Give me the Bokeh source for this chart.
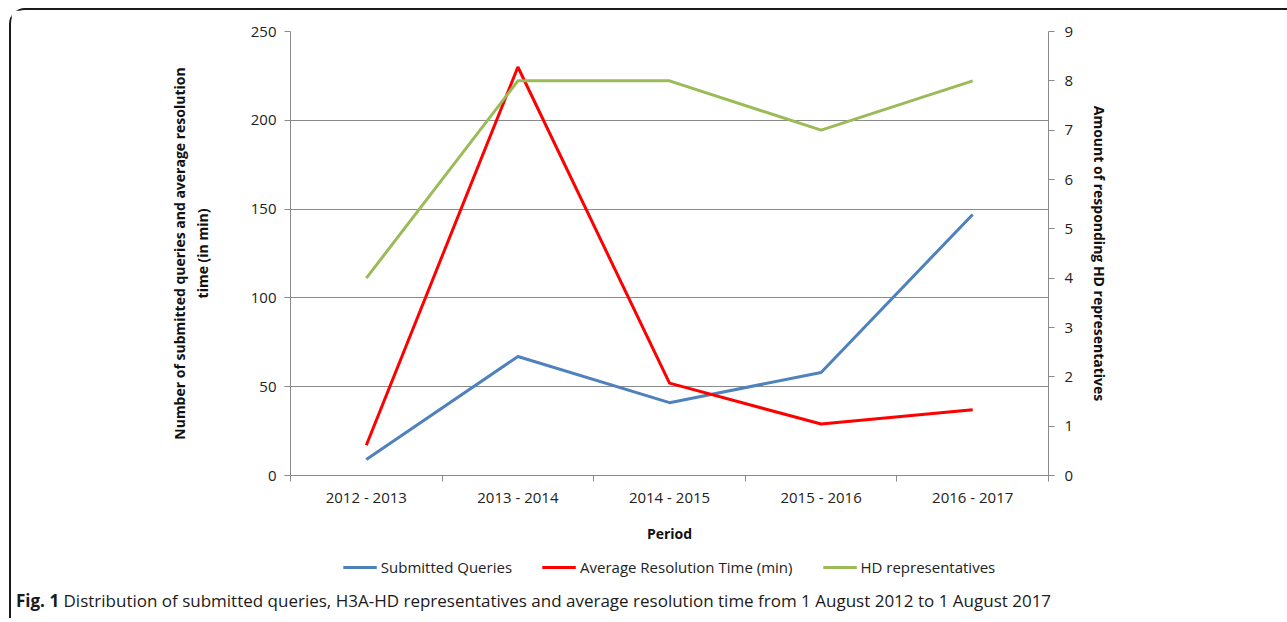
from bokeh.plotting import figure
from bokeh.models import (Range1d, LinearAxis, FixedTicker, Legend, LegendItem, Div)
from bokeh.layouts import column
from bokeh.embed import file_html
from bokeh.resources import INLINE

periods = ["2012 - 2013", "2013 - 2014", "2014 - 2015", "2015 - 2016", "2016 - 2017"]
submitted_queries = [9, 67, 41, 58, 147]
avg_resolution_min = [17, 230, 52, 29, 37]
hd_representatives = [4, 8, 8, 7, 8]
left_ticks = [0, 50, 100, 150, 200, 250]
right_ticks = [0, 1, 2, 3, 4, 5, 6, 7, 8, 9]
series_names = ["Submitted Queries", "Average Resolution Time (min)", "HD representatives"]
series_colors = ["#4F81BD", "#FF0000", "#9BBB59"]
caption_bold = "Fig. 1"
caption_text = ("Distribution of submitted queries, H3A-HD representatives and average "
                "resolution time from 1 August 2012 to 1 August 2017")

FONT = "Open Sans"
GRAY = "#8a8a8a"

xs = [i + 0.5 for i in range(len(periods))]

p = figure(width=1268, height=611, frame_width=758, frame_height=444,
           output_backend="svg", toolbar_location=None,
           x_range=Range1d(0, len(periods)), y_range=Range1d(0, 250),
           min_border_left=279, min_border_right=231, min_border_top=21, min_border_bottom=73,
           x_axis_location="below", y_axis_location="left")
p.outline_line_color = None
p.background_fill_color = "white"
p.border_fill_color = "white"

# x axis
xa = p.xaxis[0]
xa.ticker = FixedTicker(ticks=xs, minor_ticks=list(range(len(periods) + 1)))
xa.major_label_overrides = {x: lab for x, lab in zip(xs, periods)}
xa.major_tick_out = 0
xa.major_tick_in = 0
xa.minor_tick_out = 6
xa.minor_tick_in = 0
xa.minor_tick_line_color = GRAY
xa.axis_line_color = GRAY
xa.major_label_text_font = FONT
xa.major_label_text_font_size = "15px"
xa.major_label_text_color = "#222222"
xa.major_label_standoff = 5
xa.axis_label = "Period"
xa.axis_label_text_font = FONT
xa.axis_label_text_font_style = "bold"
xa.axis_label_text_font_size = "14px"
xa.axis_label_text_color = "#111111"
xa.axis_label_standoff = 14
p.xgrid.visible = False

# left axis
ya = p.yaxis[0]
ya.ticker = FixedTicker(ticks=left_ticks)
ya.minor_tick_line_color = None
ya.major_tick_out = 6
ya.major_tick_in = 0
ya.major_tick_line_color = GRAY
ya.axis_line_color = GRAY
ya.major_label_text_font = FONT
ya.major_label_text_font_size = "15px"
ya.major_label_text_color = "#222222"
ya.major_label_standoff = 8
ya.axis_label = "Number of submitted queries and average resolution\ntime (in min)"
ya.axis_label_text_font = FONT
ya.axis_label_text_font_style = "bold"
ya.axis_label_text_font_size = "14px"
ya.axis_label_text_color = "#111111"
ya.axis_label_standoff = 36
p.ygrid.ticker = FixedTicker(ticks=left_ticks)
p.ygrid.grid_line_color = GRAY
p.ygrid.grid_line_width = 1

# right axis
p.extra_y_ranges = {"hd": Range1d(0, 9)}
ra = LinearAxis(y_range_name="hd", ticker=FixedTicker(ticks=right_ticks))
ra.minor_tick_line_color = None
ra.major_tick_out = 6
ra.major_tick_in = 0
ra.major_tick_line_color = GRAY
ra.axis_line_color = GRAY
ra.major_label_text_font = FONT
ra.major_label_text_font_size = "15px"
ra.major_label_text_color = "#222222"
ra.major_label_standoff = 10
ra.axis_label = "Amount of responding HD representatives"
ra.axis_label_text_font = FONT
ra.axis_label_text_font_style = "bold"
ra.axis_label_text_font_size = "14px"
ra.axis_label_text_color = "#111111"
ra.axis_label_standoff = 14
p.add_layout(ra, "right")

p.line(xs, submitted_queries, line_color=series_colors[0], line_width=3)
p.line(xs, avg_resolution_min, line_color=series_colors[1], line_width=3)
p.line(xs, hd_representatives, line_color=series_colors[2], line_width=3, y_range_name="hd")

# legend strip (separate small figure holding the legend)
p2 = figure(width=1268, height=38, output_backend="svg", toolbar_location=None,
            x_axis_location=None, y_axis_location=None,
            min_border_left=0, min_border_right=0, min_border_top=0, min_border_bottom=0)
p2.outline_line_color = None
p2.grid.visible = False
p2.border_fill_color = "white"
p2.background_fill_color = "white"
series_values = [submitted_queries, avg_resolution_min, hd_representatives]
lr = [p2.line(xs, vals, line_color=c, line_width=3, visible=False)
      for vals, c in zip(series_values, series_colors)]
legend = Legend(items=[LegendItem(label=n, renderers=[r]) for n, r in zip(series_names, lr)],
                orientation="horizontal", location="center",
                label_text_font=FONT, label_text_font_size="15px", label_text_color="#222222",
                glyph_width=34, glyph_height=20, label_standoff=4, spacing=30,
                padding=0, margin=0, border_line_color=None, background_fill_alpha=0,
                inactive_fill_alpha=0)
p2.add_layout(legend, "center")

cap = Div(text=f"<b>{caption_bold}</b> {caption_text}", width=1268, height=22,
          styles={"font-family": "Open Sans", "font-size": "17px", "color": "#1a1a1a",
                  "padding-left": "0px", "white-space": "nowrap", "line-height": "20px"})

layout = column(p, p2, cap, spacing=0,
                styles={"border-top": "2px solid #1a1a1a", "border-left": "2px solid #1a1a1a",
                        "border-top-left-radius": "16px", "margin-left": "9px",
                        "margin-top": "8px", "background-color": "white"})

open("out.html", "w").write(file_html(layout, INLINE))
